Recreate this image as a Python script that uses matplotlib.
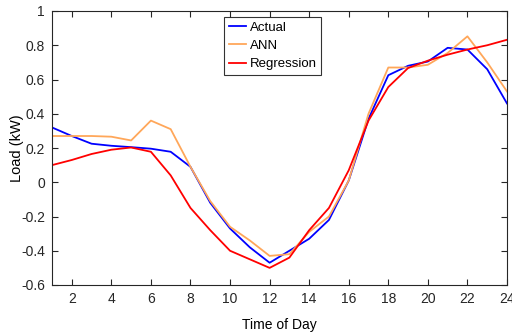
import matplotlib
matplotlib.use("Agg")
import matplotlib.pyplot as plt

hours = list(range(1, 25))
actual = [0.32, 0.27, 0.225, 0.213, 0.205, 0.196, 0.178, 0.09, -0.12, -0.27, -0.38, -0.47,
          -0.40, -0.33, -0.22, 0.01, 0.37, 0.625, 0.68, 0.705, 0.785, 0.775, 0.66, 0.46]
ann = [0.27, 0.27, 0.27, 0.266, 0.244, 0.36, 0.31, 0.09, -0.11, -0.26, -0.34, -0.43,
       -0.42, -0.29, -0.20, 0.01, 0.40, 0.67, 0.67, 0.686, 0.755, 0.852, 0.70, 0.53]
regression = [0.10, 0.13, 0.165, 0.19, 0.203, 0.178, 0.04, -0.15, -0.28, -0.40, -0.45, -0.50,
              -0.44, -0.28, -0.15, 0.07, 0.36, 0.556, 0.667, 0.71, 0.745, 0.775, 0.80, 0.832]
xticks = list(range(2, 25, 2))
yticks = [-0.6, -0.4, -0.2, 0, 0.2, 0.4, 0.6, 0.8, 1]

plt.rcParams['font.family'] = ['Liberation Sans', 'DejaVu Sans']
fig = plt.figure(figsize=(5.12, 3.36), dpi=100)
ax = fig.add_axes([52/512, 1 - 285/336, 455/512, 274/336])

ax.plot(hours, actual, color='#0000ff', lw=1.3, label='Actual')
ax.plot(hours, ann, color='#ffa75a', lw=1.3, label='ANN')
ax.plot(hours, regression, color='#ff0000', lw=1.3, label='Regression')

ax.set_xlim(1, 24)
ax.set_ylim(-0.6, 1)
ax.set_xticks(xticks)
ax.set_yticks(yticks)
ax.set_yticklabels(['-0.6', '-0.4', '-0.2', '0', '0.2', '0.4', '0.6', '0.8', '1'])
ax.tick_params(direction='in', top=True, right=True, length=4, width=0.8,
               labelsize=10, colors='#262626', pad=5)
for s in ax.spines.values():
    s.set_color('#262626')
    s.set_linewidth(0.8)

ax.set_xlabel('Time of Day', fontsize=10, color='black')
ax.xaxis.set_label_coords(0.5, -0.12)
ax.set_ylabel('Load (kW)', fontsize=10.5, color='black')
ax.yaxis.set_label_coords(-0.062, 0.5)

leg = ax.legend(loc='upper left', bbox_to_anchor=(0.378, 0.978), fontsize=9.5,
                frameon=True, fancybox=False, edgecolor='black', handlelength=1.35,
                handletextpad=0.25, borderpad=0.35, labelspacing=0.45, borderaxespad=0)
leg.get_frame().set_linewidth(0.8)

fig.savefig('out.png', dpi=100)
